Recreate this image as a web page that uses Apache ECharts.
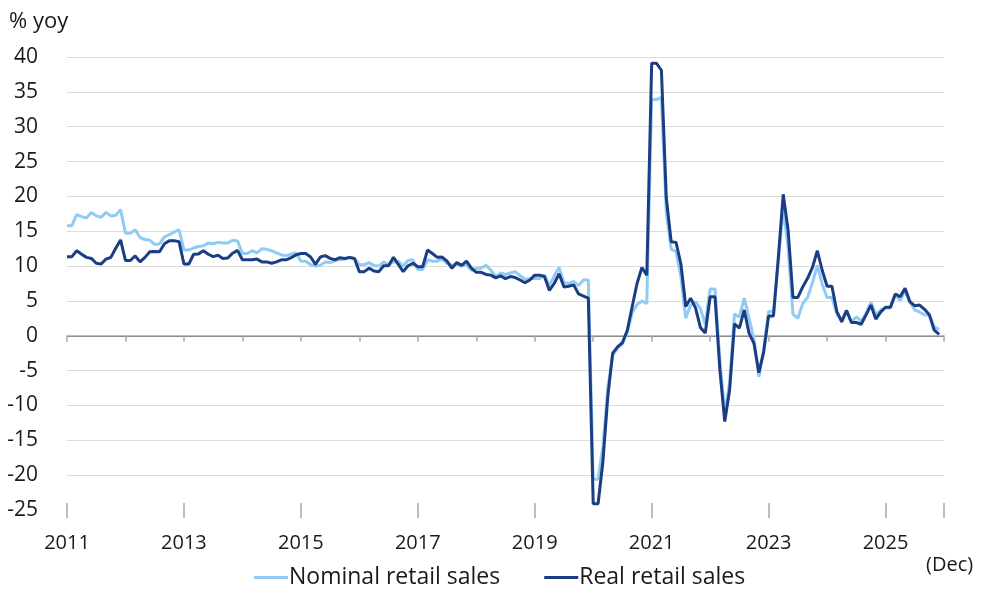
<!DOCTYPE html>
<html>
<head>
<meta charset="utf-8">
<script src="https://cdn.jsdelivr.net/npm/echarts@6/dist/echarts.min.js"></script>
<style>
  html, body { margin: 0; padding: 0; background: #fff; }
  #chart { width: 981px; height: 594px; }
</style>
</head>
<body>
<div id="chart"></div>
<script>
// monthly data, Jan 2011 .. Dec 2025 (Jan/Feb reported together)
const startYear = 2011
const yTicks = { min: -25, max: 40, step: 5 }

const nominal = [
  15.8, 15.8, 17.4, 17.1, 16.9, 17.7, 17.2, 17.0, 17.7, 17.2, 17.3, 18.1, // 2011
  14.7, 14.7, 15.2, 14.1, 13.8, 13.7, 13.1, 13.2, 14.2, 14.5, 14.9, 15.2, // 2012
  12.3, 12.3, 12.6, 12.8, 12.9, 13.3, 13.2, 13.4, 13.3, 13.3, 13.7, 13.6, // 2013
  11.8, 11.8, 12.2, 11.9, 12.5, 12.4, 12.2, 11.9, 11.6, 11.5, 11.7, 11.9, // 2014
  10.7, 10.7, 10.2, 10.0, 10.1, 10.6, 10.5, 10.8, 10.9, 11.0, 11.2, 11.1, // 2015
  10.2, 10.2, 10.5, 10.1, 10.0, 10.6, 10.2, 10.6, 10.7, 10.0, 10.8, 10.9, // 2016
  9.5, 9.5, 10.9, 10.7, 10.7, 11.0, 10.4, 10.1, 10.3, 10.0, 10.2, 9.4,    // 2017
  9.7, 9.7, 10.1, 9.4, 8.5, 9.0, 8.8, 9.0, 9.2, 8.6, 8.1, 8.2,            // 2018
  8.2, 8.2, 8.7, 7.2, 8.6, 9.8, 7.6, 7.5, 7.8, 7.2, 8.0, 8.0,             // 2019
  -20.6, -20.6, -15.8, -7.5, -2.8, -1.8, -1.1, 0.5, 3.3, 4.5, 5.0, 4.6,   // 2020
  33.9, 33.9, 34.2, 17.7, 12.4, 12.1, 8.5, 2.5, 4.4, 4.9, 3.9, 1.7,       // 2021
  6.7, 6.7, -3.5, -11.1, -6.7, 3.1, 2.7, 5.4, 2.5, -0.5, -5.9, -1.8,      // 2022
  3.5, 3.5, 10.6, 18.4, 12.7, 3.1, 2.5, 4.6, 5.5, 7.6, 10.1, 7.4,         // 2023
  5.5, 5.5, 3.1, 2.3, 3.7, 2.0, 2.7, 2.1, 3.2, 4.8, 3.0, 3.7,             // 2024
  4.0, 4.0, 5.9, 5.1, 6.4, 4.8, 3.7, 3.4, 3.0, 2.9, 1.3, 0.9              // 2025
]

const real = [
  11.35, 11.35, 12.2, 11.7, 11.25, 11.1, 10.4, 10.3, 11.0, 11.25, 12.55, 13.75, // 2011
  10.8, 10.8, 11.45, 10.6, 11.25, 12.05, 12.1, 12.05, 13.2, 13.65, 13.65, 13.5, // 2012
  10.3, 10.3, 11.7, 11.75, 12.2, 11.7, 11.35, 11.55, 11.1, 11.15, 11.85, 12.25, // 2013
  10.9, 10.9, 10.9, 11.0, 10.6, 10.6, 10.4, 10.6, 10.9, 10.9, 11.2, 11.6,       // 2014
  11.8, 11.8, 11.3, 10.25, 11.3, 11.5, 11.1, 10.9, 11.2, 11.1, 11.25, 11.1,     // 2015
  9.2, 9.2, 9.7, 9.3, 9.2, 10.05, 10.05, 11.25, 10.25, 9.2, 10.05, 10.4,        // 2016
  9.9, 9.9, 12.3, 11.8, 11.25, 11.3, 10.7, 9.7, 10.5, 10.1, 10.7, 9.7,          // 2017
  9.1, 9.1, 8.8, 8.7, 8.3, 8.6, 8.2, 8.5, 8.35, 8.0, 7.6, 8.0,                  // 2018
  8.7, 8.7, 8.5, 6.5, 7.5, 8.9, 7.0, 7.1, 7.3, 6.0, 5.7, 5.4,                   // 2019
  -24.1, -24.1, -18.0, -8.7, -2.5, -1.6, -1.0, 0.8, 4.2, 7.5, 9.8, 8.7,         // 2020
  39.1, 39.1, 38.1, 19.8, 13.5, 13.4, 10.3, 4.2, 5.4, 4.0, 1.2, 0.4,            // 2021
  5.6, 5.6, -4.9, -12.3, -7.8, 1.7, 1.1, 3.7, 0.35, -1.1, -5.3, -2.3,           // 2022
  2.85, 2.85, 11.3, 20.3, 15.2, 5.5, 5.5, 7.0, 8.25, 9.8, 12.2, 9.4,            // 2023
  7.1, 7.1, 3.5, 2.0, 3.6, 1.9, 1.9, 1.65, 3.0, 4.4, 2.4, 3.4,                  // 2024
  4.1, 4.1, 6.0, 5.6, 6.8, 4.9, 4.3, 4.4, 3.8, 3.0, 0.8, 0.2                    // 2025
]

const seriesNames = ['Nominal retail sales', 'Real retail sales']
const seriesColors = ['#8fcbf3', '#1b3d84']

// x position of month i = start year + i/12
const toPoints = arr => arr.map((v, i) => [startYear + i / 12, v])

const font = '"Open Sans", "Noto Sans", sans-serif'
const textColor = '#1a1a1a'
const gridColor = '#dcdcdc'
const axisGrey = '#a8a8a8'

// split line colours, zero line darker
const splitColors = []
for (let v = yTicks.min; v <= yTicks.max; v += yTicks.step) {
  splitColors.push(v === 0 ? '#3a3a3a' : (v === yTicks.min ? 'transparent' : gridColor))
}

const chart = echarts.init(document.getElementById('chart'))
chart.setOption({
  animation: false,
  backgroundColor: '#fff',
  textStyle: { fontFamily: font },
  grid: { left: 67, right: 37, top: 57, bottom: 84 },
  legend: {
    bottom: 0,
    left: 249,
    icon: 'rect',
    itemWidth: 34,
    itemHeight: 3,
    itemGap: 44,
    textStyle: { fontSize: 23, color: textColor, fontFamily: font, padding: [0, 0, 0, -4] },
    data: seriesNames
  },
  graphic: [
    {
      type: 'text', left: 9, top: 11,
      style: { text: '% yoy', fontSize: 22, fill: textColor, fontFamily: font }
    },
    {
      type: 'text', left: 926, top: 555,
      style: { text: '(Dec)', fontSize: 20, fill: textColor, fontFamily: font }
    }
  ],
  xAxis: [
    {
      type: 'value',
      min: 2011,
      max: 2026,
      interval: 1,
      axisLine: { lineStyle: { color: axisGrey, width: 1.5 } },
      axisTick: { show: true, length: 6, lineStyle: { color: axisGrey, width: 1.5 } },
      axisLabel: {
        margin: 23,
        fontSize: 20,
        color: textColor,
        formatter: v => (v % 2 === 1 && v < 2026 ? String(v) : '')
      },
      splitLine: { show: false }
    },
    {
      // long ticks crossing the axis every second year
      type: 'value',
      min: 2011,
      max: 2026,
      interval: 2,
      position: 'bottom',
      offset: 8,
      axisLine: { show: false },
      axisTick: { show: true, inside: true, length: 15, lineStyle: { color: axisGrey, width: 1.5 } },
      axisLabel: { show: false },
      splitLine: { show: false }
    }
  ],
  yAxis: {
    type: 'value',
    min: yTicks.min,
    max: yTicks.max,
    interval: yTicks.step,
    axisLine: { show: false },
    axisTick: { show: false },
    axisLabel: { margin: 29, fontSize: 21, color: textColor },
    splitLine: { lineStyle: { color: splitColors, width: 1.2 } }
  },
  series: [
    {
      name: seriesNames[0],
      type: 'line',
      data: toPoints(nominal),
      showSymbol: false,
      symbol: 'none',
      lineStyle: { color: seriesColors[0], width: 3 },
      itemStyle: { color: seriesColors[0] }
    },
    {
      name: seriesNames[1],
      type: 'line',
      data: toPoints(real),
      showSymbol: false,
      symbol: 'none',
      lineStyle: { color: seriesColors[1], width: 3 },
      itemStyle: { color: seriesColors[1] }
    }
  ]
})
</script>
</body>
</html>
